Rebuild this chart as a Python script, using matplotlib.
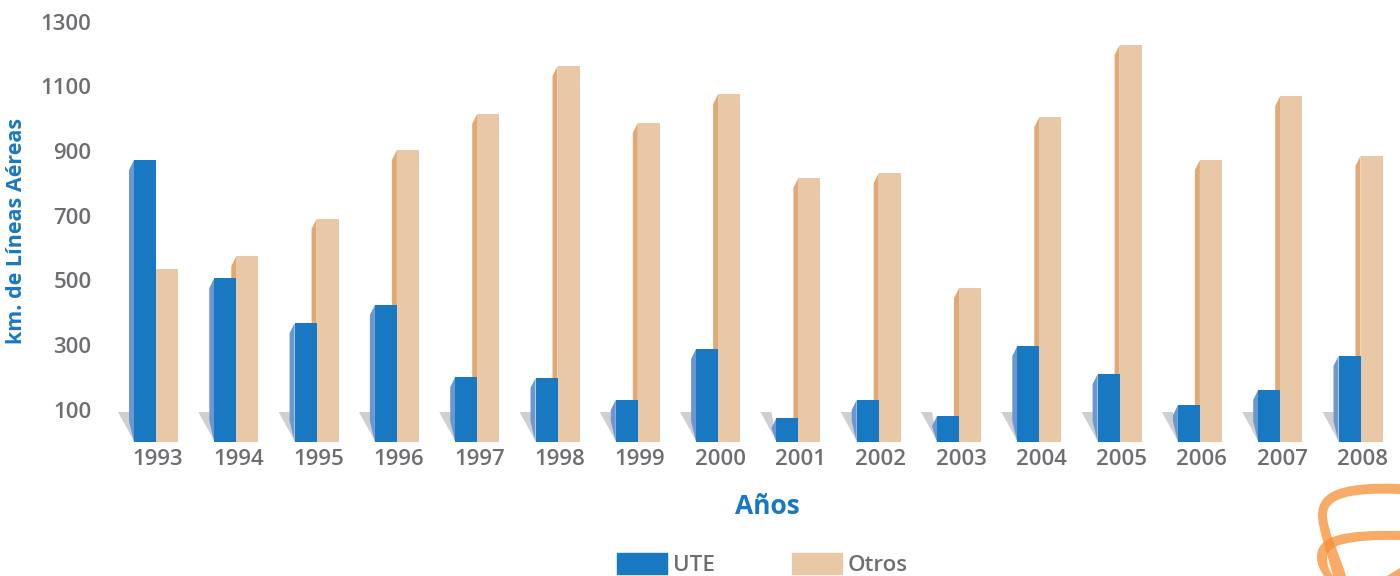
import matplotlib
matplotlib.use('Agg')
import matplotlib.pyplot as plt
from matplotlib.patches import PathPatch, Patch
from matplotlib.path import Path
from matplotlib.transforms import ScaledTranslation

years = ['1993', '1994', '1995', '1996', '1997', '1998', '1999', '2000',
         '2001', '2002', '2003', '2004', '2005', '2006', '2007', '2008']
ute = [872, 507, 368, 424, 201, 198, 130, 288, 74, 130, 80, 297, 210, 114, 161, 266]
otros = [535, 575, 690, 903, 1015, 1163, 987, 1076, 817, 832, 476, 1005, 1228, 872, 1070, 885]
yticks = [100, 300, 500, 700, 900, 1100, 1300]

BLUE = '#1878c2'
BLUE_SIDE = '#6b97d0'
TAN = '#e8c8a6'
TAN_SIDE = '#dfaa76'
GREY = '#6d6e71'
SHADOW = '#cdcfd2'

W, H = 1400, 576
plt.rcParams['font.family'] = ['Open Sans', 'DejaVu Sans']

fig = plt.figure(figsize=(W / 100, H / 100), dpi=100)

# axes placed in pixels, the first tick sits at x=156
step = 80.3
left = 100
base_y = 442
ax = fig.add_axes([left / W, (H - base_y) / H, (W - left) / W, base_y / H])
ax.set_xlim((left - 156) / step, (W - 156) / step)
ax.set_ylim(0, base_y / 0.3233)

px = 1 / step          # one pixel in x units
py = 1 / 0.3233        # one pixel in y units
bw = 22 * px

for i in range(len(years)):
    # grey shadow behind each pair
    ax.fill([i - 38 * px, i - 27 * px, i - 22 * px, i - 22 * px],
            [30 * py, 30 * py, 1 * py, 1 * py], color=SHADOW, lw=0, zorder=1)
    # side faces, the blue one is cut off on a slant at the floor
    ax.fill([i - 5 * px, i, i, i - 5 * px],
            [0, 0, otros[i], otros[i] - 10 * py], color=TAN_SIDE, lw=0, zorder=2)
    low = min(21 * py, ute[i] - 10 * py)
    ax.fill([i - bw - 5 * px, i - bw, i - bw, i - bw - 5 * px],
            [low, 0, ute[i], ute[i] - 10 * py], color=BLUE_SIDE, lw=0, zorder=4)

ax.bar([i + bw / 2 for i in range(len(years))], otros, bw, color=TAN, zorder=3)
ax.bar([i - bw / 2 for i in range(len(years))], ute, bw, color=BLUE, zorder=5)

for s in ax.spines.values():
    s.set_visible(False)
ax.patch.set_visible(False)
ax.set_xticks(range(len(years)))
ax.set_xticklabels(years)
ax.set_yticks(yticks)
ax.tick_params(length=0, labelsize=16, labelcolor=GREY)
ax.tick_params(axis='x', pad=5)
ax.tick_params(axis='y', pad=6)
shift = ScaledTranslation(2 / 100, 0, fig.dpi_scale_trans)
for t in ax.get_xticklabels():
    t.set_transform(t.get_transform() + shift)
    t.set_fontweight('semibold')
for t in ax.get_yticklabels():
    t.set_fontweight('semibold')

fig.text(17 / W, 1 - 231 / H, 'km. de Líneas Aéreas', rotation=90, color=BLUE,
         fontsize=15.5, fontweight='bold', ha='center', va='center')
fig.text(767 / W, 1 - 506 / H, 'Años', color=BLUE, fontsize=19, fontweight='bold',
         ha='center', va='center')

handles = [Patch(color=BLUE, label='UTE'), Patch(color=TAN, label='Otros')]
leg = fig.legend(handles=handles, loc='lower left', ncol=2, frameon=False,
                 bbox_to_anchor=(617 / W, 0), borderaxespad=0, borderpad=0,
                 handlelength=2.25, handleheight=1.05,
                 handletextpad=0.27, columnspacing=3.45, labelcolor=GREY,
                 prop={'size': 16, 'weight': 'semibold'})


# logo in the corner, coordinates in image pixels
def logo(verts, codes):
    verts = [(x / W, 1 - y / H) for x, y in verts]
    fig.add_artist(PathPatch(Path(verts, codes), transform=fig.transFigure,
                             facecolor='#f58f34', edgecolor='none', alpha=0.75))


M, L, C, Z = Path.MOVETO, Path.LINETO, Path.CURVE4, Path.CLOSEPOLY
logo([(1400, 484), (1345, 482), (1318, 490), (1318, 515), (1318, 530), (1328, 555), (1333, 576),
      (1346, 576), (1340, 555), (1327, 530), (1327, 515), (1327, 498), (1350, 492), (1400, 494),
      (1400, 484)],
     [M, C, C, C, C, C, C, L, C, C, C, C, C, C, Z])
logo([(1400, 531), (1345, 530), (1317, 535), (1317, 557), (1317, 565), (1320, 570), (1324, 576),
      (1333, 576), (1329, 570), (1327, 565), (1327, 557), (1327, 545), (1350, 539), (1400, 540),
      (1400, 531)],
     [M, C, C, C, C, C, C, L, C, C, C, C, C, C, Z])
logo([(1387, 576), (1400, 568), (1400, 576), (1387, 576)], [M, L, L, Z])

fig.savefig('out.png', dpi=100)
